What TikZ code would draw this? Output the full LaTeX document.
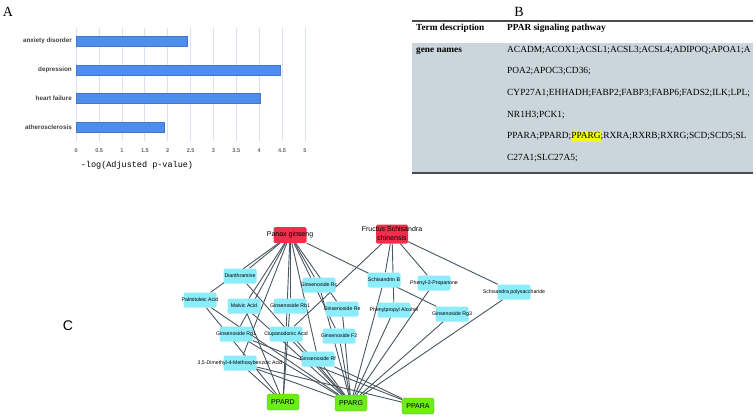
\documentclass[tikz,border=0pt]{standalone}
\usepackage{fontspec}
\setmainfont{Liberation Serif}
\newfontfamily\arial{Liberation Sans}
\newfontfamily\monof{Liberation Mono}
\usetikzlibrary{positioning,backgrounds}
\definecolor{barblue}{RGB}{78,141,236}
\definecolor{gridc}{RGB}{216,226,240}
\definecolor{tablebg}{RGB}{202,214,219}
\definecolor{hl}{RGB}{240,252,20}
\definecolor{cyanbox}{RGB}{140,236,250}
\definecolor{herbred}{RGB}{240,45,75}
\definecolor{tgtgreen}{RGB}{110,236,22}
\definecolor{edgec}{RGB}{72,86,96}
\newcommand{\lbl}[1]{\makebox[0pt]{#1}}

\begin{document}
\begin{tikzpicture}[x=1pt,y=-1pt,
  panel/.style={font=\fontsize{14}{14}\selectfont},
  catlbl/.style={anchor=east, inner sep=0pt, text=black!75, font=\arial\bfseries\fontsize{6.3}{7}\selectfont},
  tick/.style={inner sep=0pt, text=black!60, font=\arial\bfseries\fontsize{5.6}{6}\selectfont},
  hdr/.style={anchor=base west, inner sep=0pt, font=\bfseries\fontsize{9.3}{11}\selectfont},
  gene/.style={anchor=base west, inner sep=0pt, font=\fontsize{9.4}{11}\selectfont},
  cmpd/.style={fill=cyanbox, rounded corners=1.5pt, minimum width=33pt, minimum height=15pt, inner sep=0pt, font=\arial\fontsize{5.2}{6}\selectfont},
  herb/.style={cmpd, fill=herbred, minimum height=16pt, font=\arial\fontsize{7}{9.5}\selectfont},
  target/.style={cmpd, fill=tgtgreen, draw=tgtgreen!75!black, line width=0.3pt, minimum width=32pt, minimum height=16pt, font=\arial\fontsize{7}{8}\selectfont},
  edge/.style={edgec, line width=0.9pt}]
\useasboundingbox (0,0) rectangle (756,416);

% A
\node[panel] (pa) at (8,12) {A};
\foreach \k in {0,...,10}
  \draw[gridc, line width=0.9pt] ({76.3+22.87*\k},28) -- ({76.3+22.87*\k},141);
\foreach \name/\val/\yy in {anxiety disorder/2.42/41, depression/4.45/70, heart failure/4.03/98, atherosclerosis/1.93/127}{
  \node[catlbl] (cat\yy) at (72,\yy) {\name};
  \draw[fill=barblue, draw=barblue!85!black, line width=0.4pt] (76.3,{\yy-4.7}) rectangle ({76.3+45.74*\val},{\yy+4.7});
}
\foreach \t [count=\k from 0] in {0,0.5,1,1.5,2,2.5,3,3.5,4,4.5,5}
  \node[tick] (tk\k) at ({76.3+22.87*\k},151) {\t};
\node[font=\monof\fontsize{8.5}{10}\selectfont, inner sep=0pt] (xtitle) at (137,165) {-log(Adjusted p-value)};

% B
\node[panel] (pb) at (519,12) {B};
\fill[tablebg] (412,43) rectangle (753,173);
\draw[black!70, line width=1.2pt] (412,21) -- (753,21);
\draw[black!70, line width=1.2pt] (412,173) -- (753,173);
\node[hdr] (termhd) at (416,30.5) {Term description};
\node[hdr] (pathhd) at (507,30.5) {PPAR signaling pathway};
\node[hdr] (genehd) at (416,52.3) {gene names};
\foreach \txt [count=\i from 0] in {
  {ACADM;ACOX1;ACSL1;ACSL3;ACSL4;ADIPOQ;APOA1;A},
  {POA2;APOC3;CD36;},
  {CYP27A1;EHHADH;FABP2;FABP3;FABP6;FADS2;ILK;LPL;},
  {NR1H3;PCK1;},
  {PPARA;PPARD;{\fboxsep=0pt\colorbox{hl}{\strut PPARG}};RXRA;RXRB;RXRG;SCD;SCD5;SL},
  {C27A1;SLC27A5;}}
  \node[gene] (gene\i) at (507,{52.3+21.6*\i}) {\txt};

% C
\node[panel, font=\arial\fontsize{14}{14}\selectfont] (pc) at (68,326) {C};
\node[herb] (pg) at (290,235) {\lbl{Panax ginseng}};
\node[herb, minimum width=32pt] (fsc) at (392,234) {\lbl{\begin{tabular}{@{}c@{}}Fructus Schisandra\\chinensis\end{tabular}}};

\node[cmpd] (dian) at (240,276) {\lbl{Dianthramine}};
\node[cmpd] (palm) at (200,300) {\lbl{Palmitoleic Acid}};
\node[cmpd] (malv) at (244,306) {\lbl{Malvic Acid}};
\node[cmpd] (rb1) at (290,306) {\lbl{Ginsenoside Rb1}};
\node[cmpd] (rc) at (319,285) {\lbl{Ginsenoside Rc}};
\node[cmpd] (re) at (342,309) {\lbl{Ginsenoside Re}};
\node[cmpd] (rg1) at (236,334) {\lbl{Ginsenoside Rg1}};
\node[cmpd] (clup) at (286,334) {\lbl{Clupanodonic Acid}};
\node[cmpd] (f2) at (339,336) {\lbl{Ginsenoside F2}};
\node[cmpd] (dmb) at (240,363) {\lbl{3,5-Dimethyl-4-Methoxybenzoic Acid}};
\node[cmpd] (rf) at (318,359) {\lbl{Ginsenoside Rf}};
\node[cmpd] (schb) at (384,280) {\lbl{Schisandrin B}};
\node[cmpd] (phpr) at (434,283) {\lbl{Phenyl-2-Propanone}};
\node[cmpd] (phal) at (394,310) {\lbl{Phenylpropyl Alcohol}};
\node[cmpd] (rg3) at (452,314) {\lbl{Ginsenoside Rg3}};
\node[cmpd] (spol) at (514,292) {\lbl{Schisandra polysaccharide}};

\node[target] (ppard) at (283,402) {PPARD};
\node[target] (pparg) at (351,403) {PPARG};
\node[target] (ppara) at (418,406) {PPARA};

\begin{scope}[on background layer]
  \foreach \b in {dian,palm,malv,rg1,dmb,rb1,clup,rc,re,f2,rf,rg3}
    \draw[edge] (pg) -- (\b);
  \foreach \b in {clup,schb,phal,phpr,spol}
    \draw[edge] (fsc) -- (\b);
  \foreach \a in {palm,malv,dmb,rb1,clup}
    \draw[edge] (\a) -- (ppard);
  \foreach \a in {palm,dian,malv,rg1,dmb,clup,rc,re,f2,rf,schb,phal,phpr,rg3,spol}
    \draw[edge] (\a) -- (pparg);
  \foreach \a in {dmb,rg1,rf}
    \draw[edge] (\a) -- (ppara);
\end{scope}
\end{tikzpicture}
\end{document}
